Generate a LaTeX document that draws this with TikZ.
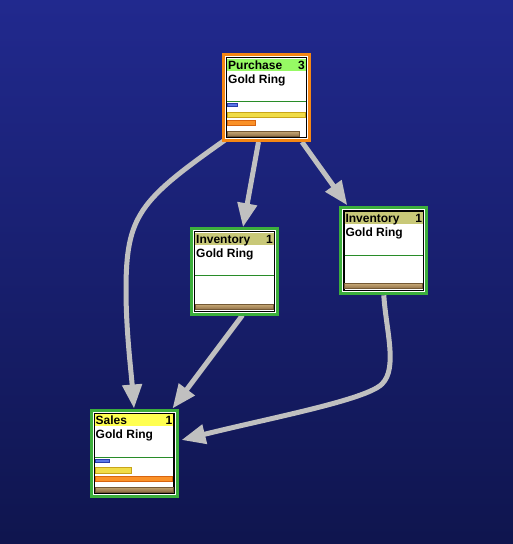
\documentclass[tikz,border=0pt]{standalone}
\usepackage{fontspec}
\setmainfont{Liberation Sans}
\usetikzlibrary{arrows.meta,calc}
\definecolor{bgtop}{RGB}{33,41,142}
\definecolor{bgbottom}{RGB}{15,21,78}
\definecolor{framegreen}{RGB}{60,175,60}
\definecolor{frameorange}{RGB}{245,135,20}
\definecolor{headgreen}{RGB}{150,250,100}
\definecolor{headkhaki}{RGB}{200,200,120}
\definecolor{headyellow}{RGB}{255,255,80}
\definecolor{divgreen}{RGB}{40,140,40}
\definecolor{linkgrey}{RGB}{192,192,192}
\definecolor{barblue}{RGB}{90,120,230}
\definecolor{barblueedge}{RGB}{40,60,170}
\definecolor{baryellow}{RGB}{240,220,70}
\definecolor{baryellowedge}{RGB}{200,165,25}
\definecolor{barorange}{RGB}{250,145,40}
\definecolor{barorangeedge}{RGB}{215,100,15}
\definecolor{barbrowntop}{RGB}{195,165,115}
\definecolor{barbrownmid}{RGB}{230,212,180}
\definecolor{barbrown}{RGB}{140,108,68}
\definecolor{barbrownedge}{RGB}{115,88,52}
\tikzset{every picture/.style={line width=0.75pt}}
\pgfdeclarelayer{bg}
\pgfsetlayers{bg,main}
\tikzset{
  card/.style={draw=#1, fill=white, line width=3pt, minimum width=86pt, minimum height=86pt, inner sep=0pt},
  cardtext/.style={inner sep=0pt, font=\fontsize{12}{12}\selectfont\bfseries},
  link/.style={draw=linkgrey, line width=5pt, -{Triangle[length=24pt,width=19pt]}},
  bluebar/.style={fill=barblue, draw=barblueedge, line width=0.8pt},
  yellowbar/.style={fill=baryellow, draw=baryellowedge, line width=0.8pt},
  orangebar/.style={fill=barorange, draw=barorangeedge, line width=0.8pt},
  brownbar/.style={top color=barbrowntop, middle color=barbrownmid, bottom color=barbrown, draw=barbrownedge, line width=0.8pt},
}
\newcommand{\cardface}[4]{%
  \begin{scope}[shift={(#1.north west)}]
    \draw[black, line width=1.2pt] (4.6,4.6) rectangle (84.4,84.4);
    \fill[#4] (5.2,5.5) rectangle (83.8,17.5);
    \node[cardtext, anchor=base west] (#1-title) at (6,16) {#2};
    \node[cardtext, anchor=base east] (#1-count) at (83,16) {#3};
    \node[cardtext, anchor=base west] (#1-item) at (6,30) {Gold Ring};
    \draw[divgreen, line width=1pt] (5.2,48.7) -- (83.8,48.7);
  \end{scope}}

\begin{document}
\begin{tikzpicture}[x=1pt,y=1pt,yscale=-1,xscale=1]
    \useasboundingbox (0,0) rectangle (513,544);
    \begin{pgfonlayer}{bg}
    \shade[top color=bgtop, bottom color=bgbottom] (0,0) rectangle (513,544);
    \end{pgfonlayer}

    \node[card=frameorange] (purchase) at (266.5,97.5) {};
    \node[card=framegreen] (inv1) at (234.5,271.7) {};
    \node[card=framegreen] (inv2) at (383.8,250.8) {};
    \node[card=framegreen] (sales) at (134,453) {};

    \cardface{purchase}{Purchase}{3}{headgreen}
    \cardface{inv1}{Inventory}{1}{headkhaki}
    \cardface{inv2}{Inventory}{1}{headkhaki}
    \cardface{sales}{Sales}{1}{headyellow}

    \begin{scope}[shift={(purchase.north west)}]
    \draw[bluebar] (5.5,50.5) rectangle (15,53.5);
    \draw[yellowbar] (5.5,59) rectangle (83,64.5);
    \draw[orangebar] (5.5,67.5) rectangle (33,72.5);
    \draw[brownbar] (5.5,78.5) rectangle (77,83.5);
    \end{scope}
    \begin{scope}[shift={(inv1.north west)}]
    \draw[brownbar] (5.5,77.5) rectangle (83.5,82.5);
    \end{scope}
    \begin{scope}[shift={(inv2.north west)}]
    \draw[brownbar] (5.5,77.5) rectangle (83.5,82.5);
    \end{scope}
    \begin{scope}[shift={(sales.north west)}]
    \draw[bluebar] (5.5,50.5) rectangle (20,53.5);
    \draw[yellowbar] (5.5,59) rectangle (42,64.5);
    \draw[orangebar] (5.5,67.5) rectangle (83,72.5);
    \draw[brownbar] (5.5,78.5) rectangle (83.5,83.5);
    \end{scope}

    \begin{pgfonlayer}{bg}
    \draw[link] ($(purchase.south west)+(3,-2)$) .. controls (140,200) and (126,215) .. (126,290) .. controls (126,330) and (131,370) .. (sales.north);
    \draw[link] ($(purchase.south)+(-8,0)$) -- ($(inv1.north)+(8.5,0)$);
    \draw[link] ($(purchase.south east)+(-9,0)$) -- ($(inv2.north west)+(8,-1)$);
    \draw[link] ($(inv1.south)+(8,-1)$) -- ($(sales.north east)+(-6,0)$);
    \draw[link] (inv2.south) .. controls (386,330) and (398,368) .. (382,384) .. controls (366,400) and (270,418) .. ($(sales.east)+(3,-13)$);
    \end{pgfonlayer}
\end{tikzpicture}
\end{document}
